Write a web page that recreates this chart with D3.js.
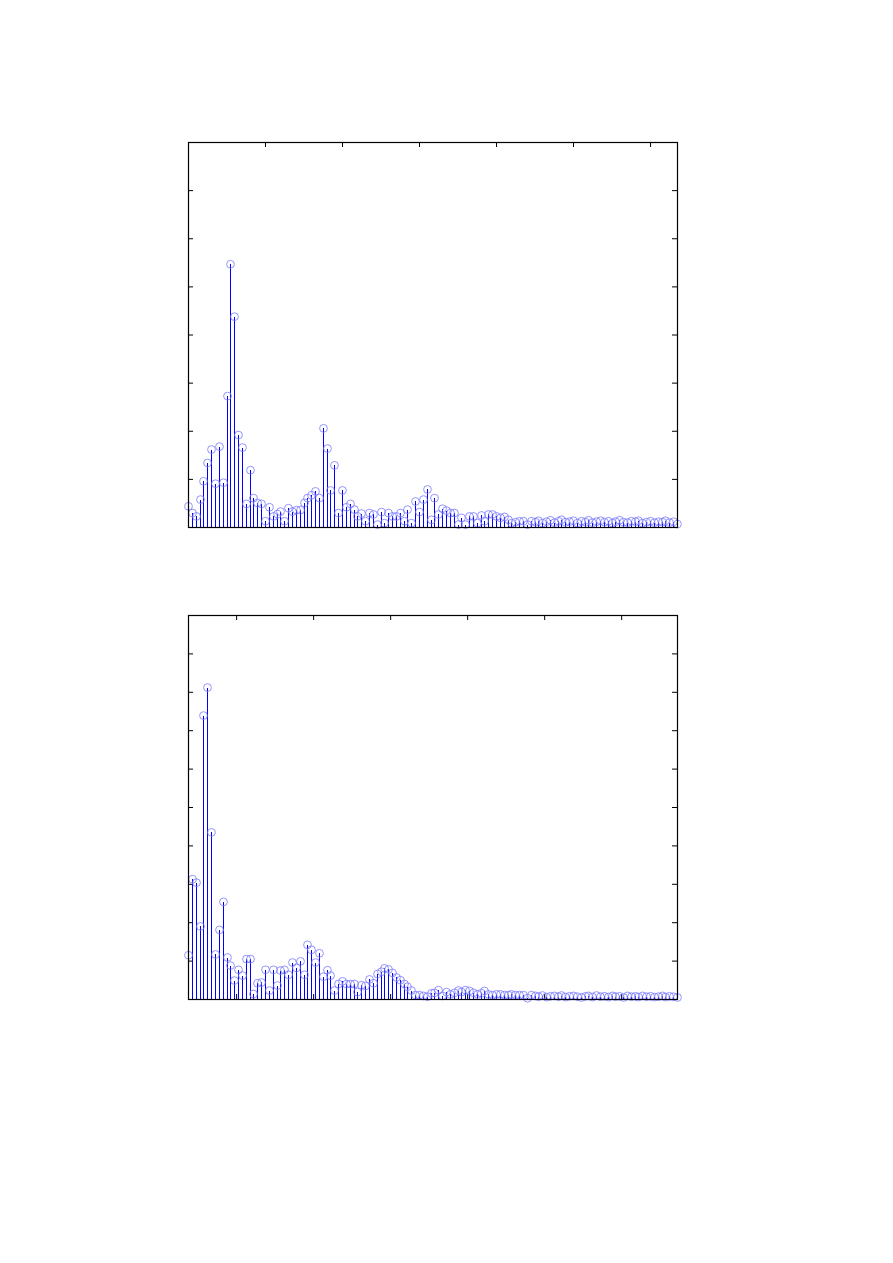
<!DOCTYPE html>
<html>
<head>
<meta charset="utf-8">
<script src="https://cdn.jsdelivr.net/npm/d3@7/dist/d3.min.js"></script>
<style>
  html, body { margin: 0; padding: 0; background: #fff; }
  svg { display: block; font-family: "DejaVu Sans", sans-serif; }
</style>
</head>
<body>
<svg id="chart"></svg>
<script>
// spectrum magnitudes, bins 0..127 (in y-tick units)
const topValues = [
  0.43, 0.29, 0.22, 0.57, 0.95, 1.33, 1.61, 0.90, 1.67, 0.92,
  2.72, 5.46, 4.37, 1.91, 1.65, 0.48, 1.18, 0.60, 0.50, 0.48,
  0.12, 0.41, 0.22, 0.27, 0.32, 0.12, 0.39, 0.32, 0.35, 0.35,
  0.50, 0.60, 0.66, 0.74, 0.60, 2.05, 1.63, 0.76, 1.28, 0.29,
  0.76, 0.41, 0.48, 0.36, 0.22, 0.28, 0.12, 0.29, 0.26, 0.05,
  0.31, 0.08, 0.29, 0.22, 0.22, 0.29, 0.12, 0.36, 0.08, 0.53,
  0.31, 0.57, 0.78, 0.15, 0.60, 0.26, 0.38, 0.34, 0.29, 0.29,
  0.05, 0.19, 0.05, 0.22, 0.22, 0.08, 0.24, 0.12, 0.26, 0.26,
  0.22, 0.19, 0.21, 0.15, 0.08, 0.10, 0.12, 0.12, 0.05, 0.12,
  0.10, 0.13, 0.08, 0.11, 0.14, 0.09, 0.12, 0.15, 0.10, 0.11,
  0.13, 0.08, 0.12, 0.10, 0.14, 0.09, 0.11, 0.13, 0.10, 0.12,
  0.08, 0.11, 0.14, 0.10, 0.09, 0.12, 0.11, 0.13, 0.08, 0.10,
  0.12, 0.09, 0.11, 0.10, 0.13, 0.09, 0.11, 0.06
];

const bottomValues = [
  1.14, 3.12, 3.03, 1.89, 7.38, 8.11, 4.34, 1.16, 1.80, 2.53,
  1.08, 0.87, 0.48, 0.76, 0.61, 1.04, 1.04, 0.13, 0.41, 0.43,
  0.76, 0.22, 0.76, 0.35, 0.74, 0.76, 0.63, 0.95, 0.81, 0.98,
  0.63, 1.41, 1.28, 0.95, 1.19, 0.58, 0.75, 0.61, 0.22, 0.39,
  0.46, 0.39, 0.39, 0.39, 0.18, 0.36, 0.34, 0.51, 0.41, 0.65,
  0.71, 0.80, 0.77, 0.68, 0.56, 0.49, 0.39, 0.32, 0.22, 0.10,
  0.10, 0.08, 0.06, 0.15, 0.16, 0.23, 0.08, 0.18, 0.12, 0.16,
  0.22, 0.18, 0.23, 0.21, 0.16, 0.12, 0.15, 0.21, 0.12, 0.10,
  0.12, 0.12, 0.10, 0.10, 0.12, 0.10, 0.10, 0.10, 0.02, 0.10,
  0.08, 0.06, 0.09, 0.05, 0.07, 0.08, 0.06, 0.09, 0.05, 0.07,
  0.08, 0.06, 0.04, 0.07, 0.08, 0.05, 0.09, 0.06, 0.07, 0.05,
  0.08, 0.06, 0.07, 0.04, 0.08, 0.06, 0.07, 0.05, 0.08, 0.06,
  0.07, 0.05, 0.06, 0.08, 0.05, 0.07, 0.06, 0.04
];

// tick positions (no labels in the original)
const topXTicks = [0, 20, 40, 60, 80, 100, 120];
const topYTicks = [0, 1, 2, 3, 4, 5, 6, 7, 8];
const bottomXTicks = [12.5, 32.5, 52.5, 72.5, 92.5, 112.5];
const bottomYTicks = [0, 1, 2, 3, 4, 5, 6, 7, 8, 9, 10];

const width = 893;
const height = 1263;
const svg = d3.select('#chart')
  .attr('width', width)
  .attr('height', height);

function drawStemPlot(box, values, yMax, xTicks, yTicks) {
  const g = svg.append('g');
  const x = d3.scaleLinear()
    .domain([0, values.length - 1])
    .range([box.left, box.right]);
  const y = d3.scaleLinear()
    .domain([0, yMax])
    .range([box.bottom, box.top]);
  const tick = 5;

  // inward ticks on all four sides
  const axes = [
    d3.axisTop(x).tickValues(xTicks).tickSizeInner(-tick),
    d3.axisBottom(x).tickValues(xTicks).tickSizeInner(-tick),
    d3.axisLeft(y).tickValues(yTicks).tickSizeInner(-tick),
    d3.axisRight(y).tickValues(yTicks).tickSizeInner(-tick)
  ];
  const offsets = [
    `translate(0,${box.top})`,
    `translate(0,${box.bottom})`,
    `translate(${box.left},0)`,
    `translate(${box.right},0)`
  ];
  axes.forEach((axis, i) => {
    const a = g.append('g')
      .attr('transform', offsets[i])
      .call(axis.tickSizeOuter(0).tickFormat(''));
    a.select('.domain').remove();
    a.selectAll('line').attr('stroke', '#000').attr('stroke-width', 1);
  });

  // stems
  g.append('g')
    .selectAll('line')
    .data(values)
    .enter()
    .append('line')
    .attr('x1', (d, i) => Math.round(x(i)) + 0.5)
    .attr('x2', (d, i) => Math.round(x(i)) + 0.5)
    .attr('y1', y(0))
    .attr('y2', d => y(d))
    .attr('stroke', '#0000ff')
    .attr('stroke-width', 1)
    .attr('shape-rendering', 'crispEdges');

  // markers
  g.append('g')
    .selectAll('circle')
    .data(values)
    .enter()
    .append('circle')
    .attr('cx', (d, i) => Math.round(x(i)) + 0.5)
    .attr('cy', d => y(d))
    .attr('r', 3.9)
    .attr('fill', 'none')
    .attr('stroke', '#7a7aff')
    .attr('stroke-width', 0.8);

  // box
  g.append('rect')
    .attr('x', box.left + 0.5)
    .attr('y', box.top + 0.5)
    .attr('width', box.right - box.left)
    .attr('height', box.bottom - box.top)
    .attr('fill', 'none')
    .attr('stroke', '#000')
    .attr('stroke-width', 1.2);
}

drawStemPlot({left: 188, right: 677, top: 142, bottom: 527}, topValues, 8, topXTicks, topYTicks);
drawStemPlot({left: 188, right: 677, top: 615, bottom: 999}, bottomValues, 10, bottomXTicks, bottomYTicks);
</script>
</body>
</html>
